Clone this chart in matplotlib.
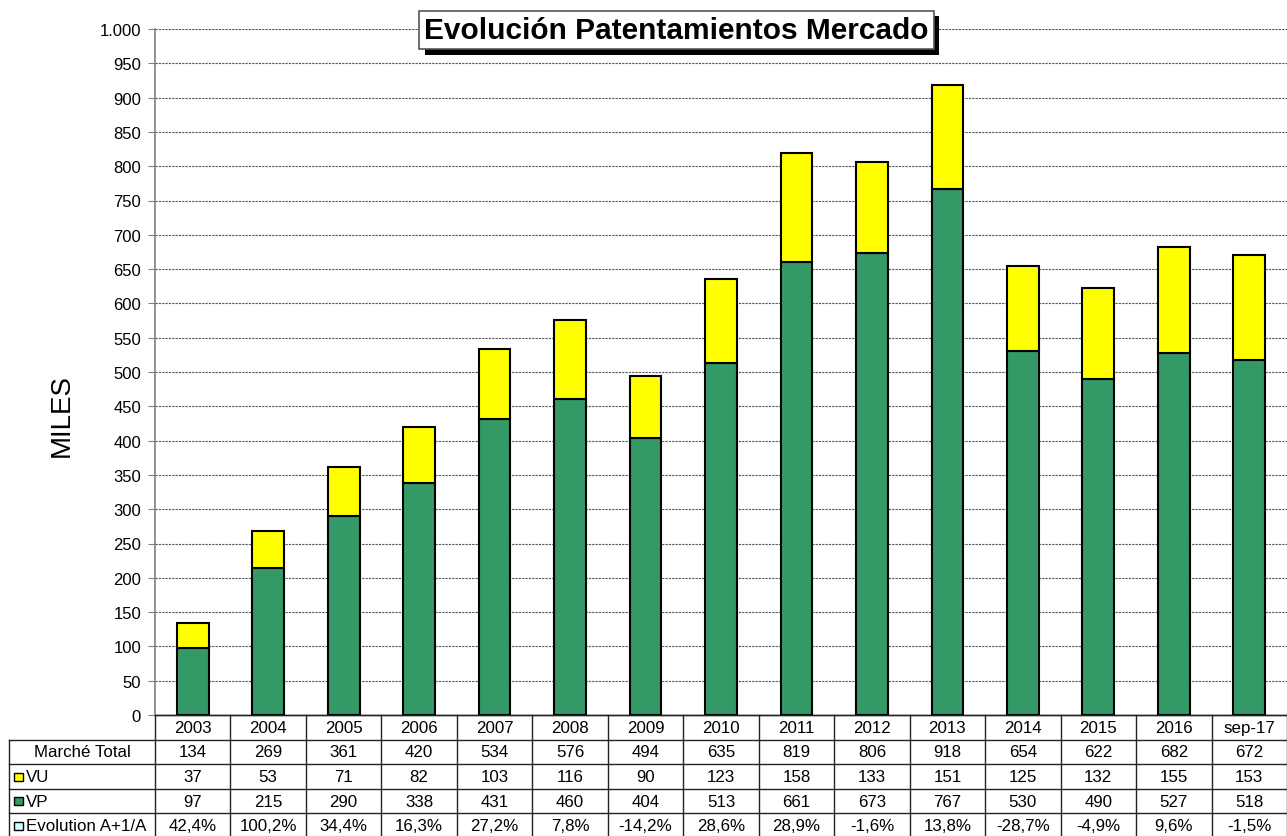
import numpy as np
import matplotlib
matplotlib.use('Agg')
import matplotlib.pyplot as plt
from matplotlib.ticker import FuncFormatter, MultipleLocator
from matplotlib.patches import Rectangle
import matplotlib.patheffects as pe

plt.rcParams['font.family'] = ['Liberation Sans', 'DejaVu Sans']

years = ['2003', '2004', '2005', '2006', '2007', '2008', '2009', '2010',
         '2011', '2012', '2013', '2014', '2015', '2016', 'sep-17']
total = [134, 269, 361, 420, 534, 576, 494, 635, 819, 806, 918, 654, 622, 682, 672]
vu = [37, 53, 71, 82, 103, 116, 90, 123, 158, 133, 151, 125, 132, 155, 153]
vp = [97, 215, 290, 338, 431, 460, 404, 513, 661, 673, 767, 530, 490, 527, 518]
evol = [42.4, 100.2, 34.4, 16.3, 27.2, 7.8, -14.2, 28.6, 28.9, -1.6, 13.8, -28.7, -4.9, 9.6, -1.5]

title = 'Evolución Patentamientos Mercado'
row_labels = ['Marché Total', 'VU', 'VP', 'Evolution A+1/A']

C_VP = '#339966'
C_VU = '#FFFF00'
C_EV = '#CCFFFF'

W, H = 1287, 837
fig = plt.figure(figsize=(W / 100, H / 100), dpi=100)

ax_left, ax_bottom_px, ax_top_px = 155, 716, 30
ax = fig.add_axes([ax_left / W, 1 - ax_bottom_px / H, 1 - ax_left / W,
                   (ax_bottom_px - ax_top_px) / H])
x = np.arange(len(years))
bw = 0.42
ax.bar(x, vp, width=bw, color=C_VP, edgecolor='black', linewidth=1.5, zorder=3)
ax.bar(x, vu, bottom=vp, width=bw, color=C_VU, edgecolor='black', linewidth=1.5, zorder=3)

ax.set_xlim(-0.5, len(years) - 0.5)
ax.set_ylim(0, 1000)
ax.yaxis.set_major_locator(MultipleLocator(50))
ax.yaxis.set_major_formatter(FuncFormatter(lambda v, p: f'{int(v):,}'.replace(',', '.')))
ax.yaxis.grid(True, linestyle=(0, (2, 1)), color='#555555', linewidth=0.8, zorder=0)
ax.set_axisbelow(True)
for s in ['top', 'right']:
    ax.spines[s].set_visible(False)
ax.spines['left'].set_color('#808080')
ax.spines['left'].set_linewidth(1.2)
ax.spines['bottom'].set_color('#333333')
ax.spines['bottom'].set_linewidth(1.0)
ax.tick_params(axis='x', bottom=False, labelbottom=False)
ax.tick_params(axis='y', length=5, color='#808080', labelsize=12, pad=5)

fig.text(62 / W, 1 - 416 / H, 'MILES', rotation=90, fontsize=20,
         ha='center', va='center')

# title with shadowed box
tx, ty = 0.5255, 1 - 31 / H
t = fig.text(tx, ty, title, fontsize=21.5, fontweight='bold', ha='center', va='center',
             bbox=dict(boxstyle='square,pad=0.17', fc='white', ec='#555555', lw=1.2),
             zorder=6)
t.get_bbox_patch().set_path_effects([
    pe.SimplePatchShadow(offset=(4, -4), shadow_rgbFace='black', alpha=1.0),
    pe.Normal()])

# data table
tax = fig.add_axes([ax_left / W, 0, 1 - ax_left / W, (H - ax_bottom_px) / H])
rh = 24.6
tax.set_xlim(-0.5, len(years) - 0.5)
tax.set_ylim((H - ax_bottom_px) / rh, 0)
tax.axis('off')
colw = (W - ax_left) / len(years)
lab_left = -0.5 - (ax_left - 9) / colw
nrows = 5
lc = '#222222'
for r in range(nrows + 1):
    x0 = -0.5 if r == 0 else lab_left
    tax.plot([x0, len(years) - 0.5], [r, r], color=lc, lw=1.0, clip_on=False)
for k in range(len(years) + 1):
    tax.plot([k - 0.5, k - 0.5], [0, nrows], color=lc, lw=1.0, clip_on=False)
tax.plot([lab_left, lab_left], [1, nrows], color=lc, lw=1.0, clip_on=False)

fs = 12.2
for i, yr in enumerate(years):
    tax.text(i, 0.5, yr, ha='center', va='center', fontsize=fs)
    tax.text(i, 1.5, str(total[i]), ha='center', va='center', fontsize=fs)
    tax.text(i, 2.5, str(vu[i]), ha='center', va='center', fontsize=fs)
    tax.text(i, 3.5, str(vp[i]), ha='center', va='center', fontsize=fs)
    tax.text(i, 4.5, f'{evol[i]:.1f}%'.replace('.', ','), ha='center', va='center', fontsize=fs)

tax.text((lab_left - 0.5) / 2, 1.5, row_labels[0], ha='center', va='center', fontsize=fs)
key_w = 9 / colw
key_h = 8 / rh
key_x = lab_left + 5 / colw
for r, (lab, col) in enumerate(zip(row_labels[1:], [C_VU, C_VP, C_EV])):
    yc = 2.5 + r
    tax.add_patch(Rectangle((key_x, yc - key_h / 2), key_w, key_h, facecolor=col,
                            edgecolor='black', lw=1.0, clip_on=False))
    tax.text(key_x + key_w + 3 / colw, yc, lab, ha='left', va='center', fontsize=fs)

fig.savefig('out.png', dpi=100)
